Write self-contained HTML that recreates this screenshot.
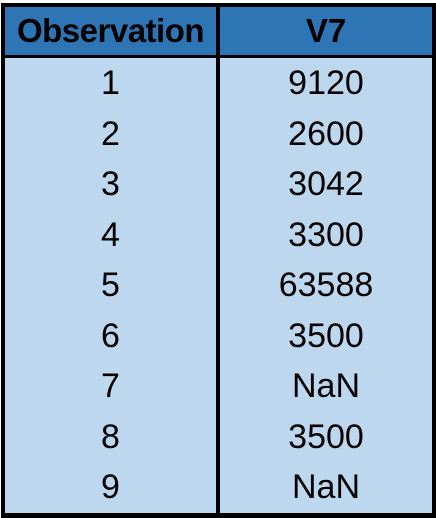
<!DOCTYPE html>
<html><head><meta charset="utf-8"><style>
body{margin:0;width:436px;height:514px;background:#fff;overflow:hidden;font-family:"Liberation Sans",sans-serif}
#t{position:absolute;left:1px;top:3px;width:427px;height:506px;border:4px solid #000;border-bottom-width:5px;background:#BDD7EE}
.h{position:absolute;left:0;top:0;width:427px;height:48px;background:#2E75B6;border-bottom:3px solid #000}
.div{position:absolute;left:211px;top:0;width:4px;height:506px;background:#000}
.c{position:absolute;text-align:center;color:#000;white-space:nowrap}
.hd{font-weight:bold;font-size:33px;line-height:48px;top:0}
.r{font-size:34px;height:50.5px;line-height:50.5px}
</style></head><body>
<div id="t">
<div class="h"></div>
<div class="c hd" style="left:0;width:211px;letter-spacing:-0.5px">Observation</div>
<div class="c hd" style="left:215px;width:212px">V7</div>
<div class="div"></div>
<div id="rows"></div>
</div>
<script>
const obs=[1,2,3,4,5,6,7,8,9];
const vals=["9120","2600","3042","3300","63588","3500","NaN","3500","NaN"];
const rows=document.getElementById('rows');
obs.forEach((o,i)=>{
 const top=51+i*50.5;
 const a=document.createElement('div');
 a.className='c r';a.style.left='0';a.style.width='211px';a.style.top=top+'px';a.textContent=o;
 
 
 rows.appendChild(a);
 const b=document.createElement('div');
 b.className='c r';b.style.left='215px';b.style.width='212px';b.style.top=top+'px';b.textContent=vals[i];
 
 
 rows.appendChild(b);
});
</script>
</body></html>
